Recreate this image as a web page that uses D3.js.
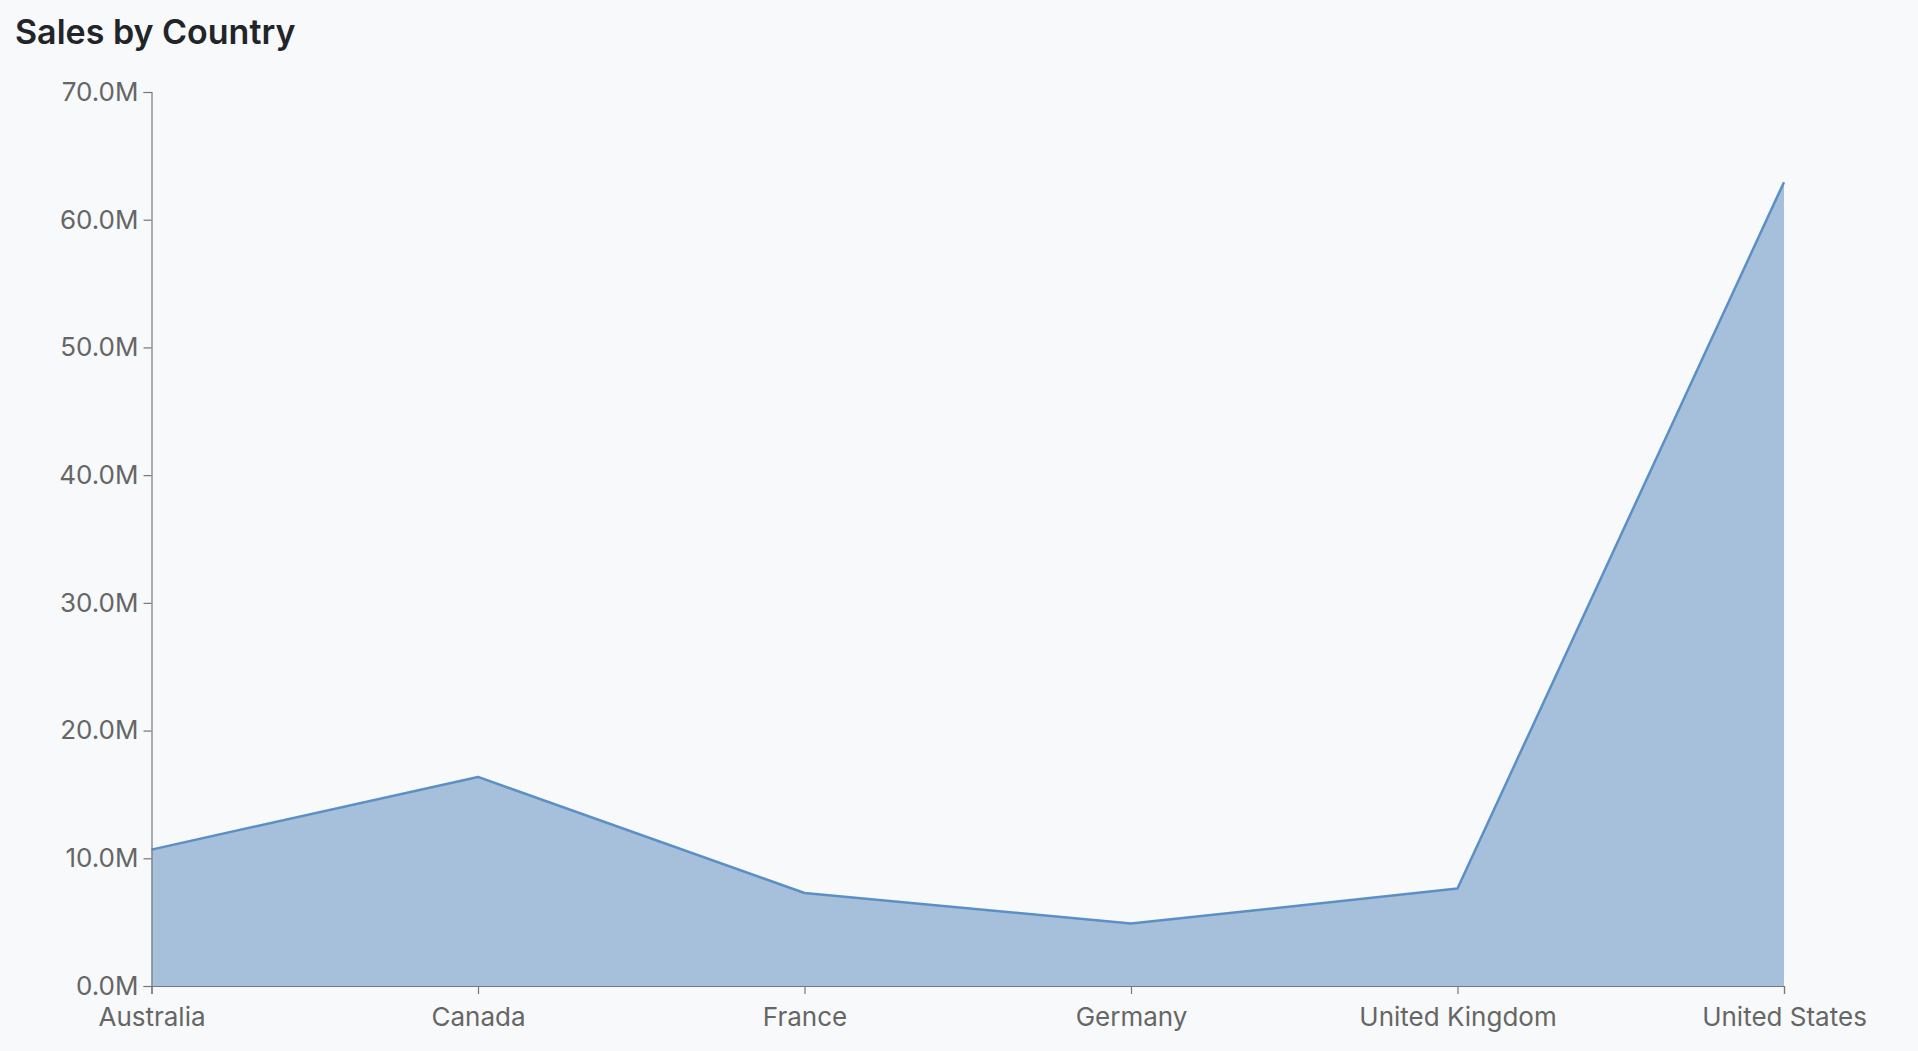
<!DOCTYPE html>
<html>
<head>
<meta charset="utf-8">
<script src="https://cdn.jsdelivr.net/npm/d3@7"></script>
<style>
  html, body { margin: 0; padding: 0; background: #f8f9fa; }
  svg { display: block; }
</style>
</head>
<body>
<svg id="chart" width="1918" height="1051"></svg>
<script>
const categories = ["Australia", "Canada", "France", "Germany", "United Kingdom", "United States"];
const sales = [10.68e6, 16.37e6, 7.28e6, 4.89e6, 7.63e6, 62.94e6];
const yTicks = [0, 10e6, 20e6, 30e6, 40e6, 50e6, 60e6, 70e6];
const title = "Sales by Country";

const W = 1918, H = 1051;
const margin = { top: 92, right: 134, bottom: 65, left: 151.5 };
const svg = d3.select("#chart");

const x = d3.scalePoint().domain(categories).range([margin.left, W - margin.right]);
const y = d3.scaleLinear().domain([0, 70e6]).range([H - margin.bottom, margin.top]);

const data = categories.map((c, i) => ({ c, v: sales[i] }));

svg.append("text")
  .attr("x", 15).attr("y", 44)
  .attr("font-family", "Inter, sans-serif")
  .attr("font-weight", 600)
  .attr("font-size", 34)
  .attr("fill", "#212529")
  .text(title);

svg.append("path")
  .datum(data)
  .attr("fill", "#a6c0dc")
  .attr("d", d3.area().x(d => x(d.c)).y0(y(0)).y1(d => y(d.v)));

svg.append("path")
  .datum(data)
  .attr("fill", "none")
  .attr("stroke", "#5b8fc5")
  .attr("stroke-width", 2.5)
  .attr("stroke-linejoin", "round")
  .attr("d", d3.line().x(d => x(d.c)).y(d => y(d.v)));

const fmt = v => (v / 1e6).toFixed(1) + "M";

const gy = svg.append("g")
  .attr("transform", `translate(${margin.left},0)`)
  .call(d3.axisLeft(y).tickValues(yTicks).tickFormat(fmt).tickSize(8).tickPadding(5));

const gx = svg.append("g")
  .attr("transform", `translate(0,${H - margin.bottom})`)
  .call(d3.axisBottom(x).tickSize(8).tickPadding(14));

[gx, gy].forEach(g => {
  g.select(".domain").attr("stroke", "#777").attr("stroke-width", 1.2);
  g.selectAll(".tick line").attr("stroke", "#777").attr("stroke-width", 1.2);
  g.selectAll(".tick text")
    .attr("font-family", "Inter, sans-serif")
    .attr("font-size", 26)
    .attr("fill", "#666");
});
</script>
</body>
</html>
